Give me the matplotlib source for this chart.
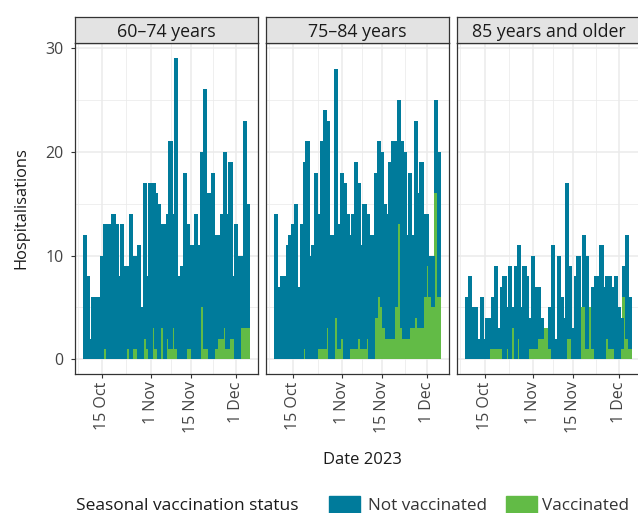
import datetime as dt
import matplotlib
matplotlib.use("Agg")
import matplotlib.pyplot as plt
import matplotlib.dates as mdates
from matplotlib.patches import Rectangle

plt.rcParams['font.family'] = ['Open Sans', 'DejaVu Sans']

# daily hospitalisations, 9 Oct - 5 Dec 2023
start = dt.date(2023, 10, 9)
n_days = 58
dates = [start + dt.timedelta(days=i) for i in range(n_days)]

age_groups = ["60–74 years", "75–84 years", "85 years and older"]

not_vacc_60 = [12, 8, 2, 6, 6, 6, 10, 12, 13, 13, 14, 13, 8, 13, 9, 8, 14, 9, 9, 11,
               5, 15, 7, 17, 14, 15, 15, 10, 13, 12, 20, 11, 28, 8, 9, 18, 12, 10, 11, 14,
               11, 15, 25, 15, 16, 18, 11, 10, 12, 17, 13, 17, 6, 13, 10, 7, 20, 12]
vacc_60 = [0, 0, 0, 0, 0, 0, 0, 1, 0, 0, 0, 0, 0, 0, 0, 1, 0, 1, 1, 0,
           0, 2, 1, 0, 3, 1, 0, 3, 0, 2, 1, 3, 1, 0, 0, 0, 1, 1, 0, 0,
           0, 5, 1, 1, 0, 0, 1, 2, 2, 3, 1, 2, 2, 0, 0, 3, 3, 3]

not_vacc_75 = [14, 7, 8, 8, 11, 12, 13, 15, 7, 13, 18, 21, 10, 11, 18, 13, 20, 23, 20, 12,
               12, 24, 12, 16, 17, 14, 11, 13, 18, 15, 10, 14, 12, 12, 12, 14, 15, 15, 12, 12,
               17, 19, 16, 12, 18, 18, 10, 15, 9, 19, 13, 16, 8, 5, 4, 5, 9, 14]
vacc_75 = [0, 0, 0, 0, 0, 0, 0, 0, 0, 0, 1, 0, 0, 0, 0, 1, 1, 1, 3, 0,
           0, 4, 1, 2, 0, 0, 1, 1, 1, 2, 1, 1, 2, 0, 0, 4, 6, 5, 3, 2,
           2, 2, 5, 13, 3, 2, 2, 3, 3, 4, 3, 3, 6, 9, 6, 5, 16, 6]

not_vacc_85 = [6, 8, 5, 5, 2, 6, 2, 4, 3, 5, 8, 2, 6, 8, 4, 9, 2, 9, 9, 5,
               9, 8, 3, 9, 6, 5, 2, 0, 0, 4, 11, 2, 10, 6, 4, 15, 7, 3, 8, 10,
               0, 7, 9, 0, 6, 8, 8, 11, 7, 6, 7, 6, 8, 5, 3, 3, 10, 5]
vacc_85 = [0, 0, 0, 0, 0, 0, 0, 0, 1, 1, 1, 1, 1, 0, 1, 0, 3, 0, 2, 0,
           0, 0, 1, 1, 1, 2, 2, 3, 3, 1, 0, 0, 0, 0, 0, 2, 2, 0, 0, 0,
           5, 5, 1, 5, 1, 0, 0, 0, 0, 2, 1, 1, 0, 0, 1, 6, 2, 1]

not_vacc = [not_vacc_60, not_vacc_75, not_vacc_85]
vacc = [vacc_60, vacc_75, vacc_85]

blue = '#007b9b'
green = '#62bb46'
dark = '#333333'
W, H = 638, 513

fig = plt.figure(figsize=(W / 100, H / 100), dpi=100)

x = mdates.date2num(dates)
bar_w = 1.5
x0 = x[0] - bar_w / 2
x1 = x[-1] + bar_w / 2
pad = 0.05 * (x1 - x0)

major = [dt.date(2023, 10, 15), dt.date(2023, 11, 1), dt.date(2023, 11, 15), dt.date(2023, 12, 1)]
major_lab = ['15 Oct', '1 Nov', '15 Nov', '1 Dec']
mj = mdates.date2num(major)
minor = [mj[0] - (mj[1] - mj[0]) / 2] + [(a + b) / 2 for a, b in zip(mj[:-1], mj[1:])]

lefts = [74.6, 265.8, 457.0]
for k, left in enumerate(lefts):
    ax = fig.add_axes([left / W, (H - 374.4) / H, 183.4 / W, 331.1 / H])
    # vaccinated bars first, then not vaccinated on top of them
    ax.bar(x, vacc[k], width=bar_w, color=green, linewidth=0, zorder=2)
    ax.bar(x, not_vacc[k], bottom=vacc[k], width=bar_w, color=blue, linewidth=0, zorder=2)

    ax.set_xlim(x0 - pad, x1 + pad)
    ax.set_ylim(-1.45, 30.45)
    ax.set_xticks(mj)
    ax.set_xticklabels(major_lab, rotation=90, fontsize=11.5, color='#444444')
    ax.set_xticks(minor, minor=True)
    ax.set_yticks([0, 10, 20, 30])
    ax.set_yticks([5, 15, 25], minor=True)
    ax.grid(True, which='major', color='#ebebeb', linewidth=1.1, zorder=0)
    ax.grid(True, which='minor', color='#ebebeb', linewidth=0.55, zorder=0)
    ax.set_axisbelow(True)
    ax.tick_params(axis='x', which='major', length=3, width=0.8, color=dark, pad=2)
    ax.tick_params(which='minor', length=0)
    if k == 0:
        ax.set_yticklabels(['0', '10', '20', '30'], fontsize=11.5, color='#444444')
        ax.tick_params(axis='y', which='major', length=3, width=0.8, color=dark, pad=5)
    else:
        ax.tick_params(axis='y', which='major', length=0, labelleft=False)
    for s in ax.spines.values():
        s.set_color(dark)
        s.set_linewidth(0.9)

    # facet strip
    st = fig.add_axes([left / W, (H - 43.3) / H, 183.4 / W, 26 / H])
    st.set_facecolor('#e3e3e3')
    st.set_xticks([])
    st.set_yticks([])
    for s in st.spines.values():
        s.set_color(dark)
        s.set_linewidth(0.9)
    st.text(0.5, 0.42, age_groups[k], ha='center', va='center', fontsize=12.8, color='#1a1a1a',
            transform=st.transAxes)

fig.text(21 / W, 1 - 208 / H, 'Hospitalisations', rotation=90, ha='center', va='center',
         fontsize=11.8, color='#1a1a1a')
fig.text(362 / W, 1 - 460 / H, 'Date 2023', ha='center', va='center', fontsize=12, color='#1a1a1a')

# legend at the bottom
base = 1 - 510 / H
fig.text(76 / W, base, 'Seasonal vaccination status', ha='left', va='baseline',
         fontsize=12.5, color='#1a1a1a')
fig.patches.append(Rectangle((329.3 / W, -5 / H), 30.7 / W, 22 / H, color=blue,
                             transform=fig.transFigure, figure=fig))
fig.text(368 / W, base, 'Not vaccinated', ha='left', va='baseline', fontsize=12.3, color='#333333')
fig.patches.append(Rectangle((506 / W, -5 / H), 30.7 / W, 22 / H, color=green,
                             transform=fig.transFigure, figure=fig))
fig.text(542.3 / W, base, 'Vaccinated', ha='left', va='baseline', fontsize=12.3, color='#333333')

fig.savefig('out.png', dpi=100)
